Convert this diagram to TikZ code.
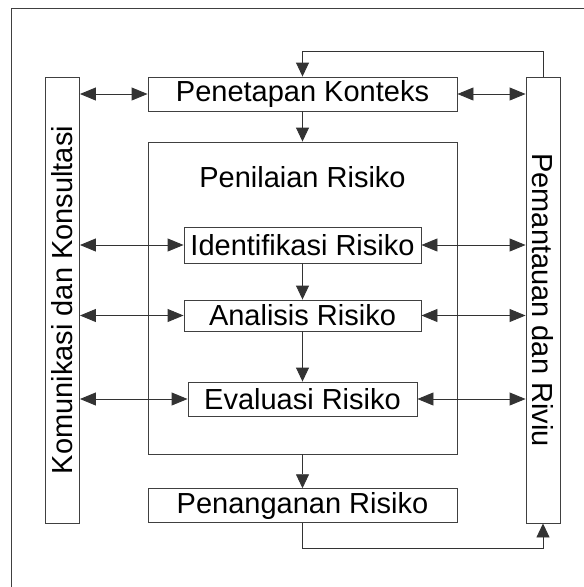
\documentclass[tikz,border=0pt]{standalone}
\usepackage{fontspec}
\setmainfont{Liberation Sans}
\usetikzlibrary{arrows.meta}
\begin{document}
\begin{tikzpicture}[x=1pt,y=-1pt,
  box/.style={draw=black!75, line width=0.9pt, inner sep=0pt, text=black,
    font=\fontsize{29}{30}\selectfont},
  lbl/.style={inner sep=0pt, text=black, font=\fontsize{29}{30}\selectfont},
  conn/.style={draw=black!80, line width=0.9pt},
  arr/.style={conn, -{Triangle[length=14pt,width=13pt]}},
  darr/.style={conn, {Triangle[length=16pt,width=13pt]}-{Triangle[length=16pt,width=13pt]}}]
\useasboundingbox (0,0) rectangle (584,587);
\clip (0,0) rectangle (584,587);
% frame
\draw[draw=black!75, line width=0.9pt] (11,600) -- (11,8) -- (600,8);
% side boxes
\node[box, rotate=90, minimum width=446pt, minimum height=34pt] (kom) at (62.5,300) {Komunikasi dan Konsultasi};
\node[box, rotate=-90, minimum width=446pt, minimum height=34pt] (riv) at (543,300) {Pemantauan dan Riviu};
% main boxes
\node[box, minimum width=309pt, minimum height=34pt] (ctx) at (302.5,94) {Penetapan Konteks};
\node[box, minimum width=309pt, minimum height=312pt] (nil) at (302.5,298) {};
\node[lbl] (niltxt) at (302.5,177) {Penilaian Risiko};
\node[box, minimum width=237pt, minimum height=36pt] (idf) at (302.5,245) {Identifikasi Risiko};
\node[box, minimum width=237pt, minimum height=31pt] (ana) at (302.5,315.5) {Analisis Risiko};
\node[box, minimum width=229pt, minimum height=34pt] (eva) at (302.5,399) {Evaluasi Risiko};
\node[box, minimum width=309pt, minimum height=34pt] (pen) at (302.5,505.7) {Penanganan Risiko};
% vertical flow
\draw[arr] (ctx.south) -- (nil.north);
\draw[arr] (idf.south) -- (ana.north);
\draw[arr] (ana.south) -- (eva.north);
\draw[arr] (nil.south) -- (pen.north);
% feedback loops
\coordinate (tr) at (543,51);
\coordinate (br) at (543,548.7);
\draw[arr] (riv.west) -- (tr) -| (ctx.north);
\draw[arr] (pen.south) |- (br) -- (riv.east);
% two-way arrows
\draw[darr] (kom.south |- ctx.west) -- (ctx.west);
\draw[darr] (ctx.east) -- (riv.south |- ctx.east);
\draw[darr] (kom.south |- idf.west) -- (idf.west);
\draw[darr] (idf.east) -- (riv.south |- idf.east);
\draw[darr] (kom.south |- ana.west) -- (ana.west);
\draw[darr] (ana.east) -- (riv.south |- ana.east);
\draw[darr] (kom.south |- eva.west) -- (eva.west);
\draw[darr] (eva.east) -- (riv.south |- eva.east);
\end{tikzpicture}
\end{document}
